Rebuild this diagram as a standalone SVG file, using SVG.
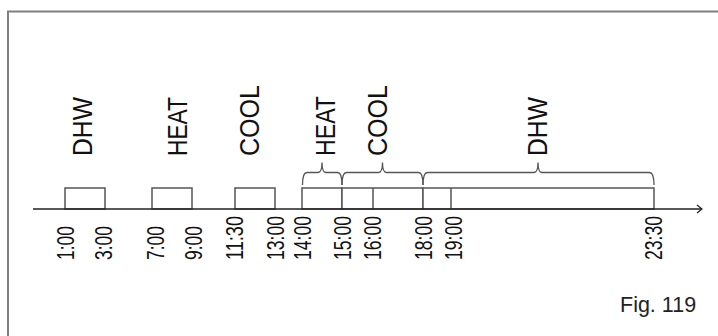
<svg xmlns="http://www.w3.org/2000/svg" width="718" height="336" viewBox="0 0 718 336">
  <defs>
    <marker id="chev" viewBox="0 0 10 10" refX="9" refY="5" markerWidth="10" markerHeight="10" markerUnits="userSpaceOnUse" orient="auto">
      <path d="M4,1 L9,5 L4,9" fill="none" stroke="#222" stroke-width="1.2"/>
    </marker>
  </defs>
  <style>
    .frame { fill: none; stroke: #808080; stroke-width: 2; }
    .box { fill: #fff; stroke: #555; stroke-width: 1.5; }
    .tick { stroke: #555; stroke-width: 1.5; }
    .axis { fill: none; stroke: #222; stroke-width: 1.3; }
    .brace { fill: none; stroke: #555; stroke-width: 1.3; }
    .lbl { font-family: "Liberation Sans", Arial, sans-serif; font-size: 27px; fill: #111; }
    .time { font-family: "Liberation Sans", Arial, sans-serif; font-size: 23.5px; fill: #111; }
    .fig { font-family: "Liberation Sans", Arial, sans-serif; font-size: 21.5px; fill: #222; }
  </style>
  <rect width="718" height="336" fill="#fff"/>
  <path class="frame" d="M8,336 V11.5 H718"/>

  <g id="slot-dhw-1">
    <rect class="box" x="65" y="188" width="40" height="21"/>
    <text class="lbl" transform="translate(92,156) rotate(-90)" textLength="59" lengthAdjust="spacingAndGlyphs">DHW</text>
  </g>
  <g id="slot-heat-1">
    <rect class="box" x="152" y="188" width="40" height="21"/>
    <text class="lbl" transform="translate(187,156) rotate(-90)" textLength="59" lengthAdjust="spacingAndGlyphs">HEAT</text>
  </g>
  <g id="slot-cool-1">
    <rect class="box" x="235" y="188" width="40" height="21"/>
    <text class="lbl" transform="translate(259,156) rotate(-90)" textLength="71" lengthAdjust="spacingAndGlyphs">COOL</text>
  </g>
  <g id="slot-heat-2">
    <rect class="box" x="302" y="188" width="40" height="21"/>
    <text class="lbl" transform="translate(334.5,156) rotate(-90)" textLength="60" lengthAdjust="spacingAndGlyphs">HEAT</text>
  </g>
  <g id="slot-cool-2">
    <rect class="box" x="342" y="188" width="81" height="21"/>
    <line class="tick" x1="373" y1="188" x2="373" y2="209"/>
    <text class="lbl" transform="translate(387,156) rotate(-90)" textLength="71" lengthAdjust="spacingAndGlyphs">COOL</text>
  </g>
  <g id="slot-dhw-2">
    <rect class="box" x="423" y="188" width="231" height="21"/>
    <line class="tick" x1="451" y1="188" x2="451" y2="209"/>
    <text class="lbl" transform="translate(547,156) rotate(-90)" textLength="59" lengthAdjust="spacingAndGlyphs">DHW</text>
  </g>

  <g id="connectors">
    <line class="axis" x1="33" y1="209" x2="702" y2="209" marker-end="url(#chev)"/>
    <path class="brace" d="M302.5,185 Q302.5,172.5 307,172.5 H318 Q322,172.5 322,162.5 Q322,172.5 326,172.5 H337.5 Q342,172.5 342,185"/>
    <path class="brace" d="M342,185 Q342,172.5 346.5,172.5 H378.5 Q382.5,172.5 382.5,162.5 Q382.5,172.5 386.5,172.5 H418.5 Q423,172.5 423,185"/>
    <path class="brace" d="M423,185 Q423,172.5 427.5,172.5 H534 Q538,172.5 538,162.5 Q538,172.5 542,172.5 H649.5 Q654,172.5 654,185"/>
  </g>

  <g id="times">
    <text class="time" transform="translate(73.5,260) rotate(-90)" textLength="34" lengthAdjust="spacingAndGlyphs">1:00</text>
    <text class="time" transform="translate(112,260) rotate(-90)" textLength="34" lengthAdjust="spacingAndGlyphs">3:00</text>
    <text class="time" transform="translate(164,260) rotate(-90)" textLength="34" lengthAdjust="spacingAndGlyphs">7:00</text>
    <text class="time" transform="translate(202,260) rotate(-90)" textLength="34" lengthAdjust="spacingAndGlyphs">9:00</text>
    <text class="time" transform="translate(243,260) rotate(-90)" textLength="44" lengthAdjust="spacingAndGlyphs">11:30</text>
    <text class="time" transform="translate(283.5,260) rotate(-90)" textLength="44" lengthAdjust="spacingAndGlyphs">13:00</text>
    <text class="time" transform="translate(310.5,260) rotate(-90)" textLength="44" lengthAdjust="spacingAndGlyphs">14:00</text>
    <text class="time" transform="translate(350.5,260) rotate(-90)" textLength="44" lengthAdjust="spacingAndGlyphs">15:00</text>
    <text class="time" transform="translate(381,260) rotate(-90)" textLength="44" lengthAdjust="spacingAndGlyphs">16:00</text>
    <text class="time" transform="translate(432,260) rotate(-90)" textLength="44" lengthAdjust="spacingAndGlyphs">18:00</text>
    <text class="time" transform="translate(462,260) rotate(-90)" textLength="44" lengthAdjust="spacingAndGlyphs">19:00</text>
    <text class="time" transform="translate(662,260) rotate(-90)" textLength="44" lengthAdjust="spacingAndGlyphs">23:30</text>
  </g>

  <text class="fig" x="620" y="311.5">Fig. 119</text>
</svg>
